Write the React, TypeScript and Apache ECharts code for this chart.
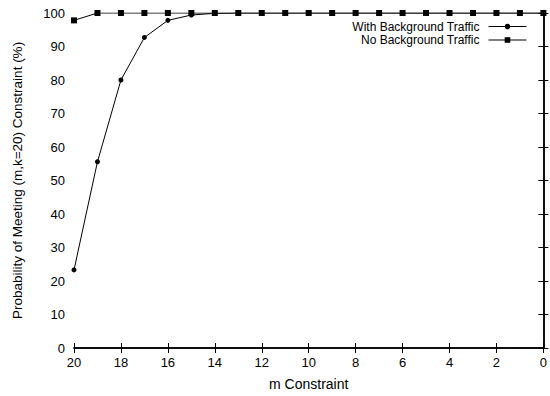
import React, { useEffect, useRef } from "react";
import * as echarts from "echarts";

const mValues = [20, 19, 18, 17, 16, 15, 14, 13, 12, 11, 10, 9, 8, 7, 6, 5, 4, 3, 2, 1, 0];
const withBg = [23.3, 55.6, 80.0, 92.7, 97.8, 99.4, 99.9, 100, 100, 100, 100, 100, 100, 100, 100, 100, 100, 100, 100, 100, 100];
const noBg = [97.8, 100, 100, 100, 100, 100, 100, 100, 100, 100, 100, 100, 100, 100, 100, 100, 100, 100, 100, 100, 100];
const seriesNames = ["With Background Traffic", "No Background Traffic"];

const FONT = "Liberation Sans, Arial, sans-serif";

export default function App() {
  const ref = useRef<HTMLDivElement>(null);
  useEffect(() => {
    if (!ref.current) return;
    const chart = echarts.init(ref.current, undefined, { renderer: "svg" });
    const axisLine = { show: true, lineStyle: { color: "#000", width: 1.5 } };
    const tick = { show: true, inside: true, length: 5, lineStyle: { color: "#000", width: 1 } };
    const label = { color: "#000", fontFamily: FONT, fontSize: 13 };
    const legendText = { color: "#000", fontFamily: FONT, fontSize: 12, padding: [0, 4, 0, 0] };
    const legendCommon = {
      right: 18,
      itemWidth: 38,
      itemHeight: 7,
      align: "right",
      textStyle: legendText,
      lineStyle: { width: 1, color: "#000" },
    };
    chart.setOption({
      animation: false,
      backgroundColor: "#fff",
      grid: { left: 74, right: 5, top: 13, bottom: 45, containLabel: false },
      legend: [
        { ...legendCommon, data: [seriesNames[0]], top: 15.5 },
        { ...legendCommon, data: [seriesNames[1]], top: 29 },
      ],
      xAxis: [
        {
          type: "value",
          inverse: true,
          min: 0,
          max: 20,
          interval: 2,
          name: "m Constraint",
          nameLocation: "middle",
          nameGap: 29,
          nameTextStyle: { color: "#000", fontFamily: FONT, fontSize: 14 },
          axisLine,
          axisTick: tick,
          axisLabel: { ...label, margin: 8 },
          splitLine: { show: false },
        },
        {
          type: "value",
          inverse: true,
          min: 0,
          max: 20,
          interval: 2,
          position: "top",
          axisLine,
          axisTick: tick,
          axisLabel: { show: false },
          splitLine: { show: false },
        },
      ],
      yAxis: [
        {
          type: "value",
          min: 0,
          max: 100,
          interval: 10,
          name: "Probability of Meeting (m,k=20) Constraint (%)",
          nameLocation: "middle",
          nameGap: 50,
          nameTextStyle: { color: "#000", fontFamily: FONT, fontSize: 13.5 },
          axisLine,
          axisTick: tick,
          axisLabel: { ...label, margin: 9 },
          splitLine: { show: false },
        },
        {
          type: "value",
          min: 0,
          max: 100,
          interval: 10,
          position: "right",
          axisLine,
          axisTick: tick,
          axisLabel: { show: false },
          splitLine: { show: false },
        },
      ],
      series: [
        {
          name: seriesNames[0],
          type: "line",
          data: mValues.map((m, i) => [m, withBg[i]]),
          symbol: "circle",
          symbolSize: 5,
          lineStyle: { color: "#000", width: 1 },
          itemStyle: { color: "#000" },
          z: 3,
        },
        {
          name: seriesNames[1],
          type: "line",
          data: mValues.map((m, i) => [m, noBg[i]]),
          symbol: "rect",
          symbolSize: 6,
          lineStyle: { color: "#000", width: 1 },
          itemStyle: { color: "#000" },
          z: 2,
        },
      ],
    });
    return () => chart.dispose();
  }, []);
  return <div ref={ref} style={{ width: 550, height: 396, position: "absolute", left: 0, top: 0 }} />;
}
